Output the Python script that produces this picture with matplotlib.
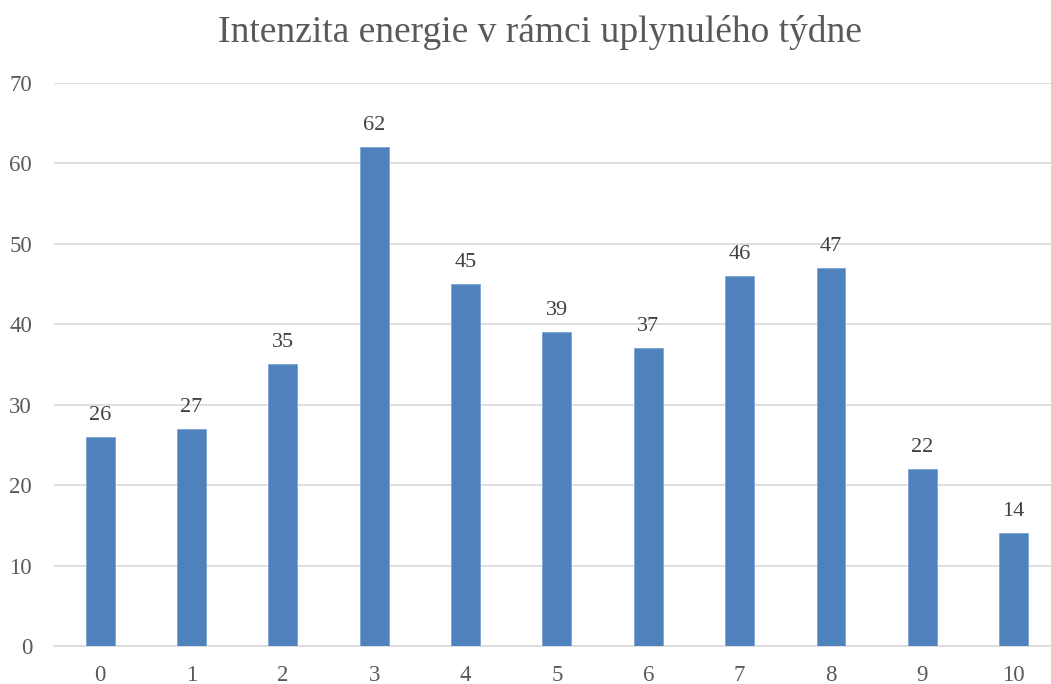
import matplotlib.pyplot as plt

kategorie = ["0", "1", "2", "3", "4", "5", "6", "7", "8", "9", "10"]
hodnoty = [26, 27, 35, 62, 45, 39, 37, 46, 47, 22, 14]

sedy_text = "#595959"
plt.rcParams['font.family'] = ['Liberation Serif', 'DejaVu Serif']

fig = plt.figure(figsize=(10.51, 6.84), dpi=100)
# plocha grafu presahuje pravy okraj obrazku, jako v originale
ax = fig.add_axes([0.0517, 0.0556, 0.9563, 0.8231])

pozice = range(len(kategorie))
ax.bar(pozice, hodnoty, width=0.317, color="#4F81BD",
       edgecolor="#7FA3D3", linewidth=0.6, zorder=3)

for x, v in zip(pozice, hodnoty):
    ax.text(x, v + 1.5, str(v), ha="center", va="bottom",
            fontsize=16, color="#404040")

ax.set_xlim(-0.5, len(kategorie) - 0.5)
ax.set_ylim(0, 70)
ax.set_yticks(range(0, 71, 10))
ax.set_xticks(list(pozice))
ax.set_xticklabels(kategorie)
ax.grid(axis="y", color="#D9D9D9", linewidth=1.2, zorder=0)
ax.tick_params(length=0, labelsize=16.5, labelcolor=sedy_text)
ax.tick_params(axis="x", pad=13.5)
ax.tick_params(axis="y", pad=16)
for s in ["top", "right", "left"]:
    ax.spines[s].set_visible(False)
ax.spines["bottom"].set_color("#D9D9D9")
ax.spines["bottom"].set_linewidth(1.2)

fig.text(0.514, 0.952, "Intenzita energie v rámci uplynulého týdne",
         ha="center", va="center", fontsize=27, color=sedy_text)

fig.savefig("out.png", dpi=100)
